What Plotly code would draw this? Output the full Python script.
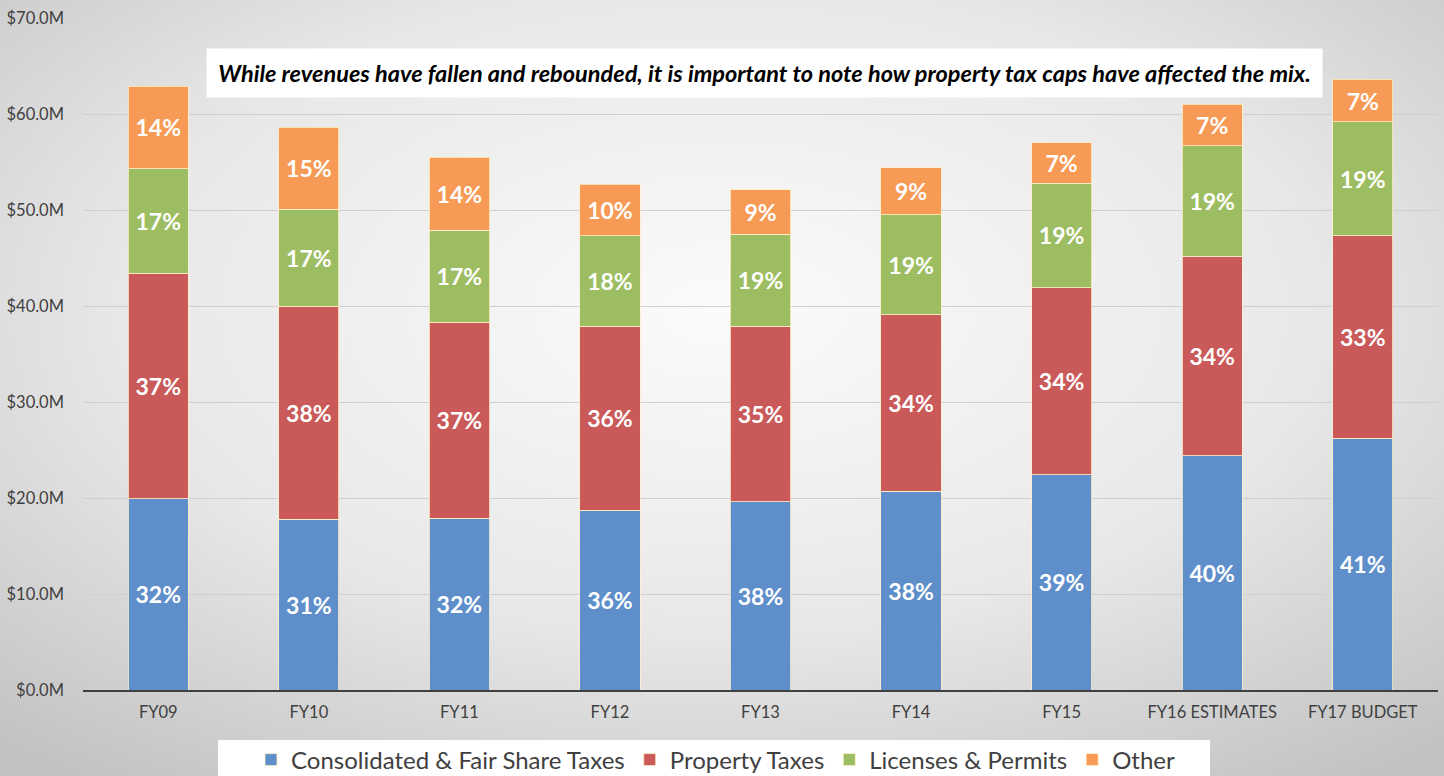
import base64
import plotly.graph_objects as go

categories = ["FY09", "FY10", "FY11", "FY12", "FY13", "FY14", "FY15", "FY16 ESTIMATES", "FY17 BUDGET"]
consolidated = [19.9, 17.8, 17.9, 18.75, 19.6, 20.7, 22.4, 24.4, 26.25]
property_taxes = [23.5, 22.2, 20.4, 19.15, 18.3, 18.4, 19.5, 20.8, 21.05]
licenses = [10.9, 10.1, 9.6, 9.4, 9.6, 10.4, 10.9, 11.5, 11.9]
other = [8.6, 8.5, 7.6, 5.4, 4.6, 4.9, 4.2, 4.3, 4.4]

consolidated_pct = ["32%", "31%", "32%", "36%", "38%", "38%", "39%", "40%", "41%"]
property_pct = ["37%", "38%", "37%", "36%", "35%", "34%", "34%", "34%", "33%"]
licenses_pct = ["17%", "17%", "17%", "18%", "19%", "19%", "19%", "19%", "19%"]
other_pct = ["14%", "15%", "14%", "10%", "9%", "9%", "7%", "7%", "7%"]

y_ticks = [0, 10, 20, 30, 40, 50, 60, 70]
y_tick_labels = ["$0.0M", "$10.0M", "$20.0M", "$30.0M", "$40.0M", "$50.0M", "$60.0M", "$70.0M"]

series = [
    ("Consolidated & Fair Share Taxes", consolidated, consolidated_pct, "#5f8fca"),
    ("Property Taxes", property_taxes, property_pct, "#c95a59"),
    ("Licenses & Permits", licenses, licenses_pct, "#9dbd62"),
    ("Other", other, other_pct, "#f69a55"),
]

W, H = 1444, 776
ML, MR, MT, MB = 83, 6, 18, 86
PW, PH = W - ML - MR, H - MT - MB


def px_x(x):
    return (x - ML) / PW


def px_y(y):
    return (H - MB - y) / PH


fig = go.Figure()
for name, vals, labels, color in series:
    fig.add_trace(go.Bar(
        name=name, x=categories, y=vals, text=labels,
        texttemplate="%{text}", textposition="inside", insidetextanchor="middle",
        textangle=0, constraintext="none",
        textfont=dict(family="Lato, Open Sans, sans-serif", size=23, color="white", weight="bold"),
        marker=dict(color=color, line=dict(color="rgba(255,240,200,0.8)", width=1)),
        hoverinfo="skip",
    ))

svg = (
    '<svg xmlns="http://www.w3.org/2000/svg" width="1444" height="776">'
    '<defs><radialGradient id="g" cx="50%" cy="40%" r="75%">'
    '<stop offset="0%" stop-color="#fbfbfb"/>'
    '<stop offset="55%" stop-color="#e8e8e8"/>'
    '<stop offset="100%" stop-color="#c2c2c2"/>'
    '</radialGradient></defs>'
    '<rect width="1444" height="776" fill="url(#g)"/></svg>'
)
src = "data:image/svg+xml;base64," + base64.b64encode(svg.encode()).decode()

fig.update_layout(
    width=W, height=H,
    barmode="stack", bargap=0.6,
    margin=dict(l=ML, r=MR, t=MT, b=MB, autoexpand=False),
    paper_bgcolor="#dcdcdc", plot_bgcolor="rgba(0,0,0,0)",
    font=dict(family="Lato, Open Sans, sans-serif", color="#404040"),
    images=[dict(source=src, xref="paper", yref="paper", x=px_x(0), y=px_y(0),
                 sizex=W / PW, sizey=H / PH, xanchor="left", yanchor="top",
                 sizing="stretch", layer="below")],
    shapes=[dict(type="rect", xref="paper", yref="paper",
                 x0=px_x(218), x1=px_x(1210), y0=px_y(776), y1=px_y(740),
                 fillcolor="white", line=dict(width=0), layer="below")],
    showlegend=True,
    legend=dict(orientation="h", x=px_x(716), xanchor="center", y=px_y(760), yanchor="middle",
                bgcolor="rgba(0,0,0,0)", font=dict(size=24, color="#404040"),
                itemwidth=30, traceorder="normal"),
    annotations=[dict(
        text="<b><i>While revenues have fallen and rebounded, it is important to note how property tax caps have affected the mix.</i></b>",
        xref="paper", yref="paper", x=px_x(764), y=px_y(73),
        xanchor="center", yanchor="middle", showarrow=False,
        bgcolor="white", borderpad=10, width=1095,
        font=dict(family="Lato, Open Sans, sans-serif", size=23.5, color="black"),
    )],
)
fig.update_xaxes(showline=True, linecolor="#404040", linewidth=2, ticks="",
                 tickfont=dict(size=16.5, color="#404040"), showgrid=False,
                 ticklabelstandoff=6)
fig.update_yaxes(range=[0, 70], tickvals=y_ticks, ticktext=y_tick_labels,
                 showgrid=True, gridcolor="#cfcfcf", gridwidth=1, zeroline=False,
                 ticks="", ticklabelstandoff=18,
                 tickfont=dict(size=16.5, color="#404040"))

fig.write_html("out.html", config={"displayModeBar": False},
               post_script="document.body.style.margin='0px';document.body.style.overflow='hidden';")
